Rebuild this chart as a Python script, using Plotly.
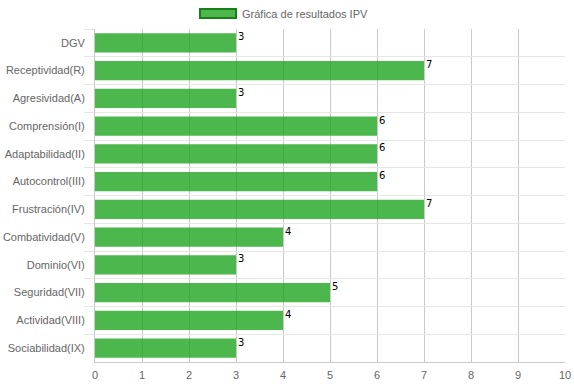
import plotly.graph_objects as go

categories = ["DGV", "Receptividad(R)", "Agresividad(A)", "Comprensión(I)",
              "Adaptabilidad(II)", "Autocontrol(III)", "Frustración(IV)",
              "Combatividad(V)", "Dominio(VI)", "Seguridad(VII)",
              "Actividad(VIII)", "Sociabilidad(IX)"]
values = [3, 7, 3, 6, 6, 6, 7, 4, 3, 5, 4, 3]
series_name = "Gráfica de resultados IPV"
x_ticks = list(range(0, 11))

FONT = "Liberation Sans, Arial, sans-serif"
FS = 11

fig = go.Figure()
fig.add_trace(go.Bar(
    x=values, y=categories, orientation="h",
    marker=dict(color="rgba(16,159,16,0.75)", line=dict(width=0)),
    width=0.7, showlegend=False, name=series_name,
))

annotations = []
for c, v in zip(categories, values):
    annotations.append(dict(
        x=v, y=c, xref="x", yref="y", text=str(v), showarrow=False,
        xanchor="left", yanchor="middle", xshift=0, yshift=6,
        font=dict(family="DejaVu Sans, sans-serif", size=10, color="#000"),
    ))
# legend label
annotations.append(dict(
    x=(240 - 95) / 470, y=1 + (29 - 13.5) / 333, xref="paper", yref="paper",
    text=series_name, showarrow=False, xanchor="left", yanchor="middle",
    font=dict(family=FONT, size=FS, color="#666"),
))

fig.update_layout(
    width=574, height=386,
    margin=dict(l=95, r=9, t=29, b=24, autoexpand=False),
    paper_bgcolor="white", plot_bgcolor="white",
    font=dict(family=FONT, size=FS, color="#666"),
    annotations=annotations,
    shapes=[dict(
        type="rect", xref="paper", yref="paper",
        x0=(200 - 95) / 470, x1=(236 - 95) / 470,
        y0=1 + (29 - 18) / 333, y1=1 + (29 - 9) / 333,
        fillcolor="#4cb84c", line=dict(color="#1a7f1a", width=2),
    )],
    bargap=0.3,
)
fig.update_xaxes(
    range=[0, 10], tickvals=x_ticks, ticktext=[str(t) for t in x_ticks],
    showgrid=True, gridcolor="#c9c9c9", gridwidth=1,
    showline=True, linecolor="#c9c9c9", linewidth=1,
    ticks="", zeroline=False, automargin=False, ticklabelstandoff=3,
    tickfont=dict(family=FONT, size=FS, color="#666"),
)
fig.update_yaxes(
    type="category", categoryorder="array", categoryarray=categories,
    autorange="reversed", tickson="boundaries", automargin=False,
    showgrid=True, gridcolor="#e6e6e6", gridwidth=1,
    ticks="outside", ticklen=10, tickcolor="#e6e6e6", tickwidth=1,
    ticklabelstandoff=7,
    showline=True, linecolor="#c9c9c9", linewidth=1,
    tickfont=dict(family=FONT, size=FS, color="#666"),
)

fig.write_html(
    "out.html",
    config={"displayModeBar": False},
    post_script="document.body.style.margin='0';document.body.style.padding='0';document.body.style.overflow='hidden';",
)
